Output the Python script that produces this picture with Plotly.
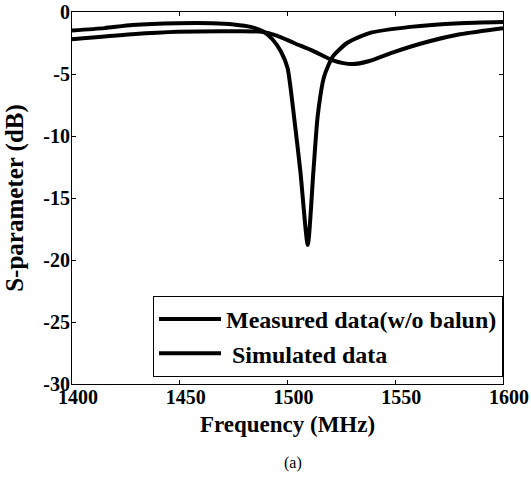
import plotly.graph_objects as go

# measured S-parameter (sharp dip near 1509 MHz)
freq_meas = [1400, 1415, 1428, 1449, 1465, 1475, 1483, 1489, 1493, 1497, 1500, 1503,
             1506, 1509.4, 1512, 1514, 1517, 1521, 1527.6, 1538, 1557, 1580, 1600]
s_meas = [-1.5, -1.3, -1.05, -0.9, -0.9, -1.0, -1.2, -1.6, -2.2, -3.2, -4.5, -8.4,
          -12.9, -18.8, -12.9, -8.4, -5.2, -3.6, -2.5, -1.7, -1.2, -0.9, -0.8]

# simulated S-parameter (broad dip near 1530 MHz)
freq_sim = [1400, 1428, 1449, 1475, 1488, 1495, 1503, 1512, 1521, 1530, 1538, 1549,
            1565, 1580, 1600]
s_sim = [-2.2, -1.8, -1.6, -1.55, -1.6, -1.9, -2.5, -3.15, -3.9, -4.2, -3.95, -3.25,
         -2.4, -1.8, -1.3]

x_ticks = [1400, 1450, 1500, 1550, 1600]
y_ticks = [0, -5, -10, -15, -20, -25, -30]

serif = "Liberation Serif"

fig = go.Figure()
fig.add_trace(go.Scatter(x=freq_meas, y=s_meas, mode="lines",
                         name="<b>Measured data(w/o balun)</b>",
                         line=dict(color="black", width=4, shape="spline", smoothing=0.6)))
fig.add_trace(go.Scatter(x=freq_sim, y=s_sim, mode="lines",
                         name="<b> Simulated data</b>",
                         line=dict(color="black", width=4, shape="spline", smoothing=0.8)))

axis_common = dict(showline=True, linecolor="black", linewidth=1, mirror="ticks",
                   ticks="inside", ticklen=4, tickcolor="black", showgrid=False,
                   zeroline=False, automargin=False, ticklabeloverflow="allow",
                   tickfont=dict(family=serif, size=20, color="black"))

fig.update_xaxes(range=[1400, 1600], tickvals=x_ticks,
                 ticktext=["<b>%d</b>" % t for t in x_ticks],
                 ticklabelshift=6, ticklabelstandoff=-5,
                 title=dict(text="<b>Frequency (MHz)</b>", standoff=8,
                            font=dict(family=serif, size=23, color="black")),
                 **axis_common)
fig.update_yaxes(range=[-30, 0], tickvals=y_ticks,
                 ticktext=["<b>%d</b>" % t for t in y_ticks],
                 ticklabelstandoff=-3,
                 title=dict(text="<b>S-parameter (dB)</b>", standoff=12,
                            font=dict(family=serif, size=25, color="black")),
                 **axis_common)

fig.add_annotation(text="(a)", xref="paper", yref="paper", x=0.513, y=-0.212,
                   showarrow=False, yanchor="middle",
                   font=dict(family=serif, size=16, color="black"))

fig.update_layout(
    width=531, height=482,
    margin=dict(l=72, r=28, t=12, b=98),
    plot_bgcolor="white", paper_bgcolor="white",
    legend=dict(x=1, y=0.019, xanchor="right", yanchor="bottom",
                bordercolor="black", borderwidth=1, bgcolor="white",
                font=dict(family=serif, size=24, color="black"),
                itemwidth=62),
)

# drop the default 8px page margin so the figure sits at the window corner
fig.write_html("out.html", config={"displayModeBar": False},
               post_script="document.body.style.margin='0';")
